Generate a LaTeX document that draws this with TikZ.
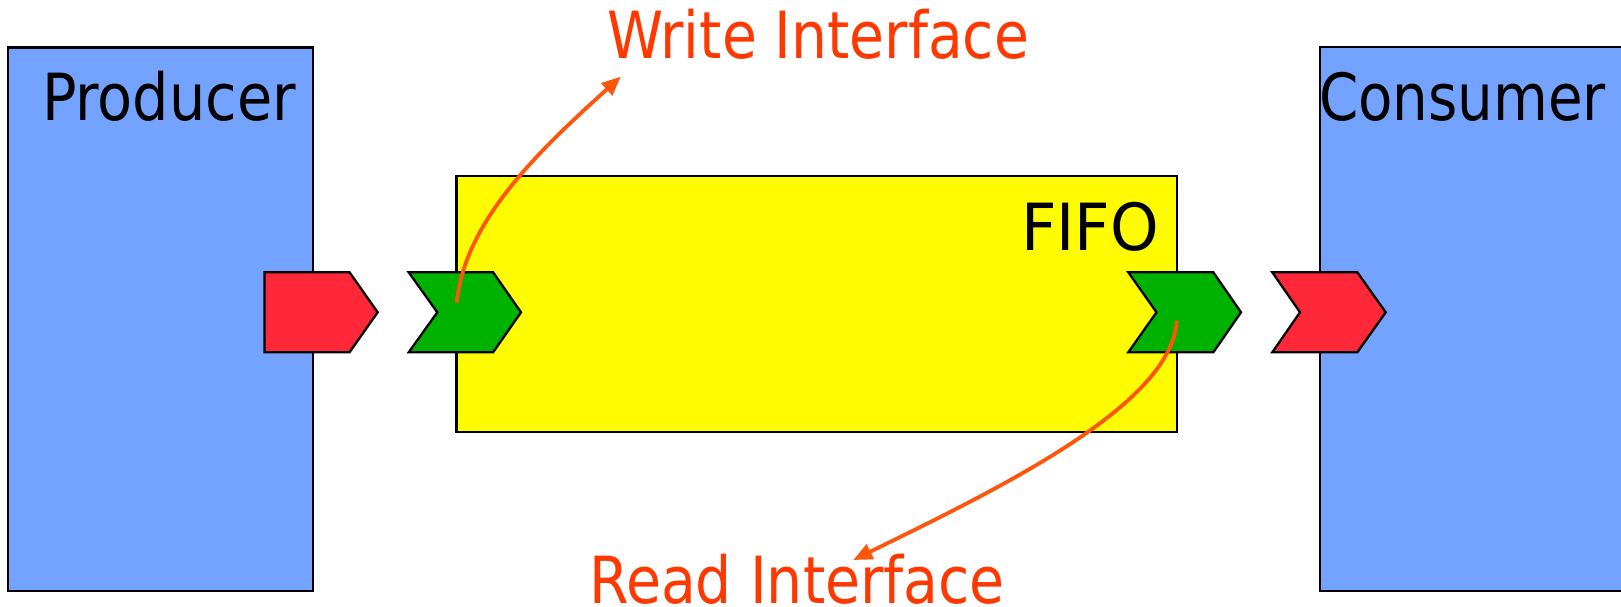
\documentclass[tikz,border=0pt]{standalone}
\usepackage{fontspec}
\setmainfont{DejaVu Sans}
\usetikzlibrary{arrows.meta}
\definecolor{boxblue}{RGB}{116,163,255}
\definecolor{fifoyellow}{RGB}{255,251,0}
\definecolor{portred}{RGB}{255,40,56}
\definecolor{portgreen}{RGB}{0,178,0}
\definecolor{labelorange}{RGB}{255,56,0}
\definecolor{arroworange}{RGB}{255,85,10}
\tikzset{
  block/.style={draw=black, line width=2.3pt, rectangle, inner sep=0pt, outer sep=0pt, anchor=north west},
  port/.style={draw=black, line width=2.3pt, line join=miter},
  txt/.style={inner sep=0pt, outer sep=0pt, anchor=base west, font=\fontsize{65}{70}\selectfont},
  callout/.style={draw=arroworange, line width=3.8pt, -{Triangle[length=19pt,width=16pt]}},
}
\begin{document}
\begin{tikzpicture}[x=1pt,y=-1pt]
\useasboundingbox (0,0) rectangle (1621,607);
\clip (0,0) rectangle (1621,607);
% blocks
\node[block, fill=boxblue, minimum width=304.7pt, minimum height=543.5pt] (producer) at (8.3,47.5) {};
\node[block, fill=boxblue, minimum width=340pt, minimum height=543.7pt] (consumer) at (1320,47.3) {};
\node[block, fill=fifoyellow, minimum width=720.2pt, minimum height=256pt] (fifo) at (456.5,175.7) {};
% ports
\draw[port, fill=portred] (264.5,272.3) -- (349.5,272.3) -- (377.7,312.3) -- (349.5,352.3) -- (264.5,352.3) -- cycle;
\draw[port, fill=portgreen] (408.7,272.3) -- (493.1,272.3) -- (521,312.3) -- (493.1,352.3) -- (408.7,352.3) -- (437.3,312.3) -- cycle;
\draw[port, fill=portgreen] (1128.3,272.3) -- (1213.3,272.3) -- (1241,312.3) -- (1213.3,352.3) -- (1128.3,352.3) -- (1156.5,312.3) -- cycle;
\draw[port, fill=portred] (1272.3,272.3) -- (1357.3,272.3) -- (1385.7,312.3) -- (1357.3,352.3) -- (1272.3,352.3) -- (1300,312.3) -- cycle;
% labels
\node[txt] (prodlabel) at (42,120.7) {\resizebox{254pt}{\height}{Producer}};
\node[txt] (conslabel) at (1319,120.7) {\resizebox{287pt}{\height}{Consumer}};
\node[txt] (fifolabel) at (1021,250) {\resizebox{138pt}{\height}{FIFO}};
\node[txt, text=labelorange] (wlabel) at (607,59) {\resizebox{422pt}{\height}{Write Interface}};
\node[txt, text=labelorange] (rlabel) at (589,603) {\resizebox{416pt}{\height}{Read Interface}};
% callouts
\coordinate (wstart) at (456.7,302.7);
\coordinate (wend) at (620.7,76.7);
\coordinate (rstart) at (1176.7,320.7);
\coordinate (rend) at (853.3,560);
\draw[callout] (wstart) .. controls (465,220) and (540,150) .. (wend);
\draw[callout] (rstart) .. controls (1172,405) and (1000,488) .. (rend);
\end{tikzpicture}
\end{document}
